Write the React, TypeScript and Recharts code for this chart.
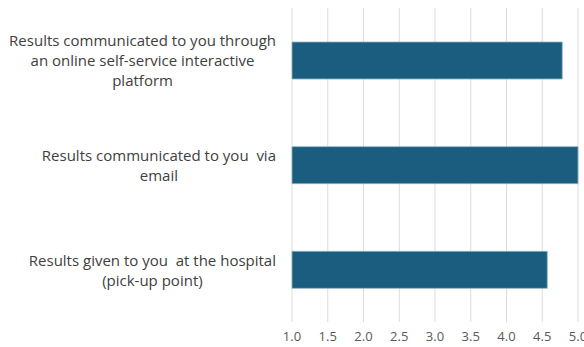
import React from 'react';
import { BarChart, Bar, XAxis, YAxis, CartesianGrid } from 'recharts';

const categories = [
  'Results communicated to you through|an online self-service interactive|platform',
  'Results communicated to you  via|email',
  'Results given to you  at the hospital|(pick-up point)',
];
const scores = [4.78, 5.0, 4.57];
const xTicks = [1.0, 1.5, 2.0, 2.5, 3.0, 3.5, 4.0, 4.5, 5.0];

const data = categories.map((c, i) => ({ name: c, score: scores[i] }));

const LABEL_FONT = '15px "Open Sans", sans-serif';

// measure text so each label block is right-aligned and its lines centred inside it
let ctx: CanvasRenderingContext2D | null = null;
const measure = (s: string) => {
  if (!ctx) ctx = document.createElement('canvas').getContext('2d');
  if (!ctx) return s.length * 7;
  ctx.font = LABEL_FONT;
  return ctx.measureText(s).width;
};

const CategoryTick = (props: any) => {
  const { x, y, payload } = props;
  const lines: string[] = String(payload.value).split('|');
  const maxW = Math.max(...lines.map(measure));
  const right = x - 8;
  const cx = right - maxW / 2;
  const lh = 20;
  const start = y - ((lines.length - 1) * lh) / 2;
  return (
    <g>
      {lines.map((l, i) => (
        <text
          key={i}
          x={cx}
          y={start + i * lh}
          textAnchor="middle"
          dominantBaseline="central"
          fill="#404040"
          style={{ font: LABEL_FONT, whiteSpace: 'pre' }}
        >
          {l}
        </text>
      ))}
    </g>
  );
};

export default function App() {
  return (
    <div style={{ position: 'absolute', left: 0, top: 0, background: '#fff' }}>
      <BarChart
        width={584}
        height={347}
        data={data}
        layout="vertical"
        margin={{ top: 8, right: 6, bottom: 0, left: 0 }}
        barSize={37}
      >
        <CartesianGrid horizontal={false} stroke="#dcdcdc" />
        <XAxis
          type="number"
          domain={[1, 5]}
          ticks={xTicks}
          interval={0}
          tickFormatter={(v: number) => v.toFixed(1)}
          axisLine={false}
          tickLine={false}
          tickMargin={4}
          height={25}
          tick={{ fill: '#595959', fontSize: 13, fontFamily: '"Open Sans", sans-serif' }}
        />
        <YAxis
          type="category"
          dataKey="name"
          width={292}
          axisLine={false}
          tickLine={false}
          tick={<CategoryTick />}
        />
        <Bar dataKey="score" fill="#1B5D7F" stroke="#8DB3C7" strokeWidth={0.8} isAnimationActive={false} />
      </BarChart>
    </div>
  );
}
